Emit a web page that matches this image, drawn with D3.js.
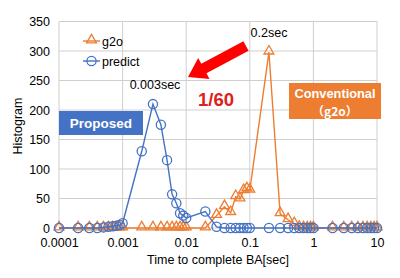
<!DOCTYPE html>
<html><head><meta charset="utf-8">
<script src="https://cdn.jsdelivr.net/npm/d3@7"></script>
<style>
html,body{margin:0;padding:0;background:#fff;}
svg{display:block;font-family:"Liberation Sans",Arial,sans-serif;}
</style></head>
<body><svg id="c" width="400" height="278"></svg>
<script>
const times = [0.0001,0.0002,0.0003,0.0004,0.0005,0.0006,0.0007,0.0008,0.0009,
  0.001,0.002,0.003,0.004,0.005,0.006,0.007,0.008,0.009,
  0.01,0.02,0.03,0.04,0.05,0.06,0.07,0.08,0.09,
  0.1,0.2,0.3,0.4,0.5,0.6,0.7,0.8,0.9,
  1,2,3,4,5,6,7,8,9,10];
const g2o = [0,0,0,0,0,0,0,0,0,
  0,0,0,0,0,0,0,0,0,
  0,0,21,36,26,53,49,63,66,
  64,298,24,14,7,1,0,0,0,
  0,0,0,0,0,0,0,0,0,0];
const predict = [0,0,0,0,1,2,3,4,5,
  8,130,210,175,115,57,42,25,21,
  17,28,2,0,0,0,0,0,0,
  0,0,0,0,0,0,0,0,0,
  0,0,0,0,0,0,0,0,0,0];
const xTicks = [0.0001,0.001,0.01,0.1,1,10];
const xTickLabels = ["0.0001","0.001","0.01","0.1","1","10"];
const yTicks = [0,50,100,150,200,250,300,350];
const seriesNames = ["g2o","predict"];

const svg = d3.select("#c");
const x = d3.scaleLog().domain([0.0001,10]).range([59,377]);
const y = d3.scaleLinear().domain([0,350]).range([228,21.5]);
const BLUE="#4472C4", ORANGE="#ED7D31", GRID="#CFCFCF";
const font = "\"Liberation Sans\",Arial,sans-serif";

// grid
svg.append("g").selectAll("line").data(yTicks).join("line")
  .attr("x1",x.range()[0]).attr("x2",x.range()[1])
  .attr("y1",d=>y(d)).attr("y2",d=>y(d)).attr("stroke",GRID).attr("stroke-width",1);
svg.append("g").selectAll("line").data(xTicks).join("line")
  .attr("x1",d=>x(d)).attr("x2",d=>x(d))
  .attr("y1",y.range()[0]).attr("y2",y.range()[1]).attr("stroke",GRID).attr("stroke-width",1);

// axes
const yAxis = d3.axisLeft(y).tickValues(yTicks).tickSize(0).tickPadding(9);
const gy = svg.append("g").attr("transform","translate(59,0)").call(yAxis);
gy.select(".domain").remove();
gy.selectAll("text").attr("font-size",12.5).attr("font-family",font).attr("fill","#000");
const xAxis = d3.axisBottom(x).tickValues(xTicks).tickFormat((d,i)=>xTickLabels[i]).tickSize(0).tickPadding(10);
const gx = svg.append("g").attr("transform","translate(0,228)").call(xAxis);
gx.select(".domain").remove();
gx.selectAll("text").attr("font-size",12.5).attr("font-family",font).attr("fill","#000");

svg.append("text").attr("x",218).attr("y",264).attr("text-anchor","middle")
  .attr("font-size",12.5).text("Time to complete BA[sec]");
svg.append("text").attr("transform","translate(22,126) rotate(-90)").attr("text-anchor","middle")
  .attr("font-size",12.5).text("Histogram");

// series
const pts = (vals)=>times.map((t,i)=>[t,vals[i]]);
const line = d3.line().x(d=>x(d[0])).y(d=>y(d[1]));
const tri = d3.symbol().type(d3.symbolTriangle).size(42);

function drawG2o(){
  svg.append("path").datum(pts(g2o)).attr("d",line).attr("fill","none")
    .attr("stroke",ORANGE).attr("stroke-width",1.4);
  svg.append("g").selectAll("path").data(pts(g2o)).join("path")
    .attr("d",tri).attr("transform",d=>`translate(${x(d[0])},${y(d[1])-1})`)
    .attr("fill","none").attr("stroke",ORANGE).attr("stroke-width",1.3);
}
function drawPredict(){
  svg.append("path").datum(pts(predict)).attr("d",line).attr("fill","none")
    .attr("stroke",BLUE).attr("stroke-width",1.4);
  svg.append("g").selectAll("circle").data(pts(predict)).join("circle")
    .attr("cx",d=>x(d[0])).attr("cy",d=>y(d[1])).attr("r",4.6)
    .attr("fill","none").attr("stroke",BLUE).attr("stroke-width",1.3);
}
drawG2o();
drawPredict();

// legend
const lg = svg.append("g");
[[ORANGE,41,"tri"],[BLUE,61,"circ"]].forEach((s,i)=>{
  lg.append("line").attr("x1",83).attr("x2",100).attr("y1",s[1]).attr("y2",s[1])
    .attr("stroke",s[0]).attr("stroke-width",1.4);
  if(s[2]==="tri") lg.append("path").attr("d",tri).attr("transform",`translate(91.5,${s[1]-1})`)
    .attr("fill","none").attr("stroke",s[0]).attr("stroke-width",1.3);
  else lg.append("circle").attr("cx",91.5).attr("cy",s[1]).attr("r",4.6)
    .attr("fill","none").attr("stroke",s[0]).attr("stroke-width",1.3);
  lg.append("text").attr("x",102).attr("y",s[1]+4.5).attr("font-size",12.5).text(seriesNames[i]);
});

// annotations
svg.append("text").attr("x",155).attr("y",89).attr("text-anchor","middle").attr("font-size",12.5).text("0.003sec");
svg.append("text").attr("x",269).attr("y",37).attr("text-anchor","middle").attr("font-size",12.5).text("0.2sec");

// arrow
(function(){
  const tail=[246,46], tip=[188,77];
  const dx=tip[0]-tail[0], dy=tip[1]-tail[1], L=Math.hypot(dx,dy);
  const ux=dx/L, uy=dy/L, nx=-uy, ny=ux;
  const sw=5.5, hw=12, hl=18;
  const bx=tip[0]-ux*hl, by=tip[1]-uy*hl;
  const p=[[tail[0]+nx*sw,tail[1]+ny*sw],[bx+nx*sw,by+ny*sw],[bx+nx*hw,by+ny*hw],tip,
    [bx-nx*hw,by-ny*hw],[bx-nx*sw,by-ny*sw],[tail[0]-nx*sw,tail[1]-ny*sw]];
  svg.append("polygon").attr("points",p.map(q=>q.join(",")).join(" ")).attr("fill","#FF0000");
})();
svg.append("text").attr("x",216).attr("y",105.5).attr("text-anchor","middle")
  .attr("font-size",18.5).attr("font-weight","bold").attr("fill","#E0201B").text("1/60");

// Proposed box
svg.append("rect").attr("x",59).attr("y",111).attr("width",84).attr("height",24).attr("fill",BLUE);
svg.append("text").attr("x",101).attr("y",128).attr("text-anchor","middle").attr("font-size",13.5)
  .attr("font-weight","bold").attr("fill","#fff").text("Proposed");

// Conventional box
svg.append("rect").attr("x",289).attr("y",83).attr("width",92).attr("height",36).attr("fill",ORANGE);
svg.append("text").attr("x",335).attr("y",97.5).attr("text-anchor","middle").attr("font-size",12.8)
  .attr("font-weight","bold").attr("fill","#fff").text("Conventional");
svg.append("text").attr("x",335).attr("y",115.5).attr("text-anchor","middle").attr("font-size",12)
  .attr("font-weight","bold").attr("fill","#fff").attr("font-family","\"Noto Sans CJK JP\",sans-serif").text("（g2o）");
</script></body></html>
